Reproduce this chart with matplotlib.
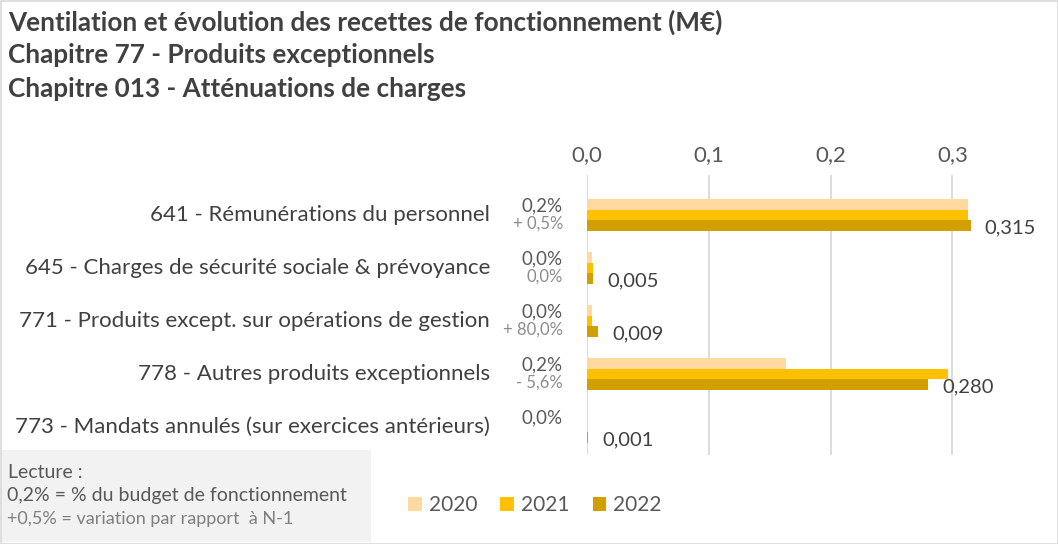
import matplotlib
matplotlib.use("Agg")
import matplotlib.pyplot as plt
from matplotlib.patches import Patch, Rectangle
import numpy as np

plt.rcParams['font.family'] = ['Lato', 'DejaVu Sans']

categories = ["641 - Rémunérations du personnel",
              "645 - Charges de sécurité sociale & prévoyance",
              "771 - Produits except. sur opérations de gestion",
              "778 - Autres produits exceptionnels",
              "773 - Mandats annulés (sur exercices antérieurs)"]
v2020 = [0.313, 0.004, 0.004, 0.163, 0.0]
v2021 = [0.313, 0.005, 0.004, 0.296, 0.0]
v2022 = [0.315, 0.005, 0.009, 0.280, 0.001]
value_labels = ["0,315", "0,005", "0,009", "0,280", "0,001"]
share_labels = ["0,2%", "0,0%", "0,0%", "0,2%", "0,0%"]
var_labels = ["+ 0,5%", "0,0%", "+ 80,0%", "- 5,6%", ""]
years = ["2020", "2021", "2022"]
colors = ["#FFD9A0", "#FFC000", "#D29F00"]
xticks = [0.0, 0.1, 0.2, 0.3]
xtick_labels = ["0,0", "0,1", "0,2", "0,3"]

W, H = 1058, 544
fig = plt.figure(figsize=(W/100, H/100), dpi=100)
fig.patch.set_facecolor("white")

# outer border
fig.add_artist(Rectangle((0.5/W, 0.5/H), 1-1/W, 1-1/H, transform=fig.transFigure,
                         fill=False, edgecolor="#d9d9d9", linewidth=1.2))
# lecture box
fig.add_artist(Rectangle((1/W, 2/H), 370/W, (544-452)/H, transform=fig.transFigure,
                         facecolor="#f2f2f2", edgecolor="none", zorder=0))

left, right, top, bottom = 587, 587 + 0.35*1218, 175, 455
ax = fig.add_axes([left/W, 1-bottom/H, (right-left)/W, (bottom-top)/H])
ax.set_facecolor("none")

y = np.arange(len(categories))
h = 0.2
ax.barh(y - h, v2020, height=h, color=colors[0], label=years[0], zorder=3)
ax.barh(y, v2021, height=h, color=colors[1], label=years[1], zorder=3)
ax.barh(y + h, v2022, height=h, color=colors[2], label=years[2], zorder=3)

ax.set_xlim(0, 0.35)
ax.set_ylim(4 + 0.53, -0.755)
ax.xaxis.tick_top()
ax.set_xticks(xticks)
ax.set_xticklabels(xtick_labels, fontsize=16, color="#595959")
ax.tick_params(axis='x', length=0, pad=7)
ax.set_yticks([])
for s in ax.spines.values():
    s.set_visible(False)
for xt in xticks:
    ax.axvline(xt, color="#d9d9d9", linewidth=1.3, zorder=1)

for i in range(len(categories)):
    ax.annotate(categories[i], xy=(0, y[i]), xytext=(-97, 0), textcoords='offset pixels',
                ha='right', va='center', fontsize=16, color="#404040")
    ax.annotate(share_labels[i], xy=(0, y[i]), xytext=(-24, 9), textcoords='offset pixels',
                ha='right', va='center', fontsize=13.5, color="#595959")
    if var_labels[i]:
        ax.annotate(var_labels[i], xy=(0, y[i]), xytext=(-24, -9), textcoords='offset pixels',
                    ha='right', va='center', fontsize=12, color="#8c8c8c")
    ax.annotate(value_labels[i], xy=(v2022[i], y[i] + h), xytext=(14, -2), textcoords='offset pixels',
                ha='left', va='center', fontsize=14.5, color="#404040")

titles = ["Ventilation et évolution des recettes de fonctionnement (M€)",
          "Chapitre 77 - Produits exceptionnels",
          "Chapitre 013 - Atténuations de charges"]
for t, yy in zip(titles, [22, 55, 89]):
    fig.text(8/W, 1 - yy/H, t, fontsize=18.8, fontweight='bold', color="#404040",
             ha='left', va='center')

fig.text(8/W, 1 - 472/H, "Lecture :", fontsize=14, color="#595959", va='center')
fig.text(7/W, 1 - 496/H, "0,2% = % du budget de fonctionnement", fontsize=14, color="#595959", va='center')
fig.text(7/W, 1 - 519/H, "+0,5% = variation par rapport  à N-1", fontsize=13, color="#7f7f7f", va='center')

handles = [Patch(facecolor=c, edgecolor='none', label=yr) for c, yr in zip(colors, years)]
fig.legend(handles=handles, loc='center', bbox_to_anchor=(535/W, 1 - 505/H), ncol=3,
           frameon=False, fontsize=15, handlelength=0.65, handleheight=0.65,
           handletextpad=0.35, columnspacing=1.1, labelcolor="#595959")

fig.savefig("out.png", dpi=100)
